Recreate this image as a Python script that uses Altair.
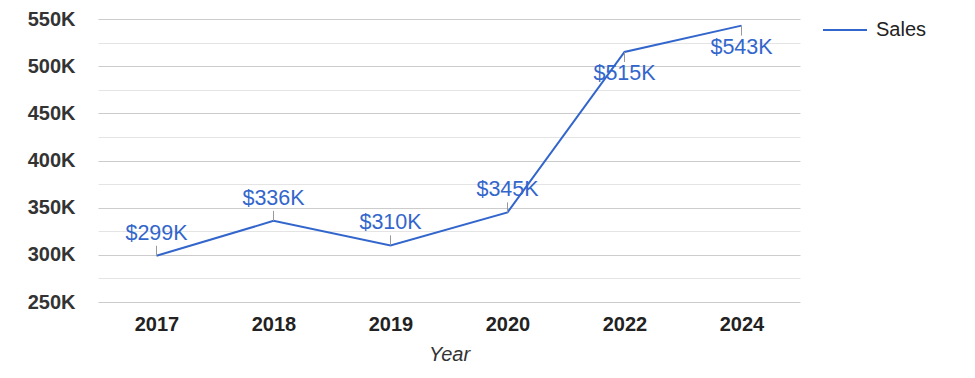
import altair as alt
import pandas as pd

years = ["2017", "2018", "2019", "2020", "2022", "2024"]
sales = [299000, 336000, 310000, 345000, 515000, 543000]
series_name = "Sales"
y_ticks = [250000, 275000, 300000, 325000, 350000, 375000, 400000, 425000,
           450000, 475000, 500000, 525000, 550000]

df = pd.DataFrame({"year": years, "sales": sales, "series": [series_name] * len(years)})

FONT = "Liberation Sans"
BLUE = "#3366cc"

x_enc = alt.X("year:N", sort=years, scale=alt.Scale(type="point", padding=0.5),
              axis=alt.Axis(title="Year", titleFontStyle="italic", titleFontWeight="normal",
                            titleFontSize=20, titleColor="#333", titleFont=FONT, titlePadding=10,
                            labelFont=FONT, labelFontSize=20, labelFontWeight="bold",
                            labelColor="#222", labelAngle=0, labelPadding=12,
                            domain=False, ticks=False, grid=False))
y_axis = alt.Axis(title=None, values=y_ticks, labelFont=FONT, labelFontSize=20,
                  labelFontWeight="bold", labelColor="#333", labelPadding=23,
                  labelExpr="datum.value % 50000 === 0 ? format(datum.value/1000, 'd') + 'K' : ''",
                  domain=False, ticks=False,
                  gridColor={"condition": {"test": "datum.value % 50000 === 0", "value": "#cccccc"},
                             "value": "#e4e4e4"})
y_scale = alt.Scale(domain=[250000, 550000], nice=False, zero=False)


def y_enc():
    return alt.Y("sales:Q", scale=y_scale, axis=y_axis)


base = alt.Chart(df).encode(x=x_enc)

line = base.mark_line(strokeWidth=2).encode(
    y=y_enc(),
    color=alt.Color("series:N", scale=alt.Scale(range=[BLUE]),
                    legend=alt.Legend(title=None, orient="none", legendX=724, legendY=-12,
                                      symbolType="stroke", symbolSize=1936, symbolStrokeWidth=2,
                                      labelFont=FONT, labelFontSize=20, labelColor="#222",
                                      labelOffset=8)),
)

labeled = base.transform_calculate(label="'$' + format(datum.sales/1000, 'd') + 'K'")

above = labeled.transform_filter("datum.sales < 500000")
below = labeled.transform_filter("datum.sales >= 500000")

tick_above = above.mark_rule(color="#999", strokeWidth=1, y2Offset=-10).encode(
    y=y_enc(), y2="sales:Q")
tick_below = below.mark_rule(color="#999", strokeWidth=1, y2Offset=10).encode(
    y=y_enc(), y2="sales:Q")

text_above = above.mark_text(font=FONT, fontSize=21.5, color=BLUE, baseline="middle", dy=-22).encode(
    y=y_enc(), text="label:N")
text_below = below.mark_text(font=FONT, fontSize=21.5, color=BLUE, baseline="middle", dy=22).encode(
    y=y_enc(), text="label:N")

chart = alt.layer(line, tick_above, tick_below, text_above, text_below).properties(
    width=702, height=283,
    autosize=alt.AutoSizeParams(type="none"),
    padding={"left": 90, "top": 11, "right": 167, "bottom": 75},
).configure_view(stroke=None)

chart.save("out.html", embed_options={"renderer": "svg", "actions": False})
